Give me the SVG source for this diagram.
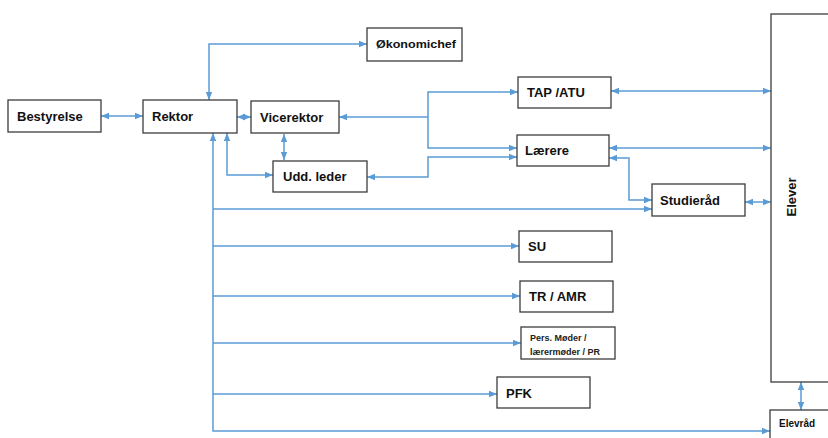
<svg xmlns="http://www.w3.org/2000/svg" width="828" height="438" viewBox="0 0 828 438">
<style>
.box{fill:#fff;stroke:#3c3c3c;stroke-width:1.3}
.t{font-family:"Liberation Sans",Arial,sans-serif;font-weight:bold;font-size:13px;fill:#111}
.s{font-family:"Liberation Sans",Arial,sans-serif;font-weight:bold;font-size:10px;fill:#111}
.xs{font-family:"Liberation Sans",Arial,sans-serif;font-weight:bold;font-size:9px;fill:#222}
.c{fill:none;stroke:#5b9bd5;stroke-width:1.5}
.a{marker-end:url(#ah)}
.b{marker-start:url(#ah);marker-end:url(#ah)}
</style>
<defs>
<marker id="ah" markerUnits="userSpaceOnUse" markerWidth="8" markerHeight="8" viewBox="0 0 8 8" refX="8" refY="4" orient="auto-start-reverse">
<path d="M0,0.8 L8,4 L0,7.2 Z" fill="#5b9bd5"/>
</marker>
</defs>
<rect width="828" height="438" fill="#fff"/>
<g id="connectors">
<path class="c b" d="M101,116 H143"/>
<path class="c b" d="M237,117 H251"/>
<path class="c b" d="M209,100 V44 H367"/>
<path class="c b" d="M284,134 V160"/>
<path class="c b" d="M227,133 V175 H273"/>
<path class="c b" d="M213,133 V431 H770"/>
<path class="c a" d="M213,209 H652"/>
<path class="c a" d="M213,246 H519"/>
<path class="c a" d="M213,296 H520"/>
<path class="c a" d="M213,343 H521"/>
<path class="c a" d="M213,394 H497"/>
<path class="c a" d="M428,117 H339"/>
<path class="c b" d="M518,92 H428 V148 H517"/>
<path class="c b" d="M367,177 H428 V157 H517"/>
<path class="c b" d="M611,91 H771"/>
<path class="c b" d="M609,148 H771"/>
<path class="c b" d="M609,158 H629 V200 H652"/>
<path class="c b" d="M745,202 H771"/>
<path class="c b" d="M801,382 V410"/>
</g>
<g id="bestyrelse"><rect class="box" x="8" y="100" width="93" height="32"/><text class="t" x="17" y="121">Bestyrelse</text></g>
<g id="rektor"><rect class="box" x="143" y="100" width="94" height="33"/><text class="t" x="152" y="121">Rektor</text></g>
<g id="vicerektor"><rect class="box" x="251" y="101" width="88" height="32"/><text class="t" x="260" y="122">Vicerektor</text></g>
<g id="uddleder"><rect class="box" x="273" y="161" width="94" height="31"/><text class="t" x="283" y="181">Udd. leder</text></g>
<g id="okonomichef"><rect class="box" x="367" y="28" width="95" height="33"/><text class="s" x="376" y="48" font-size="11" textLength="80" lengthAdjust="spacingAndGlyphs">Økonomichef</text></g>
<g id="tapatu"><rect class="box" x="518" y="77" width="93" height="31"/><text class="t" x="527" y="97">TAP /ATU</text></g>
<g id="laerere"><rect class="box" x="517" y="135" width="92" height="31"/><text class="t" x="525" y="155">Lærere</text></g>
<g id="studieraad"><rect class="box" x="652" y="184" width="93" height="32"/><text class="t" x="660" y="205">Studieråd</text></g>
<g id="su"><rect class="box" x="519" y="231" width="93" height="31"/><text class="t" x="528" y="251">SU</text></g>
<g id="tramr"><rect class="box" x="520" y="281" width="93" height="31"/><text class="t" x="529" y="301">TR / AMR</text></g>
<g id="persmoeder"><rect class="box" x="521" y="327" width="94" height="32"/><text class="xs" x="530" y="341">Pers. Møder /</text><text class="xs" x="530" y="355">lærermøder / PR</text></g>
<g id="pfk"><rect class="box" x="497" y="377" width="93" height="31"/><text class="t" x="506" y="398">PFK</text></g>
<g id="elever"><rect class="box" x="771" y="14" width="70" height="368"/><text class="t" transform="translate(796,197) rotate(-90)" text-anchor="middle">Elever</text></g>
<g id="elevraad"><rect class="box" x="770" y="410" width="70" height="40"/><text class="s" x="779" y="427">Elevråd</text></g>
</svg>
